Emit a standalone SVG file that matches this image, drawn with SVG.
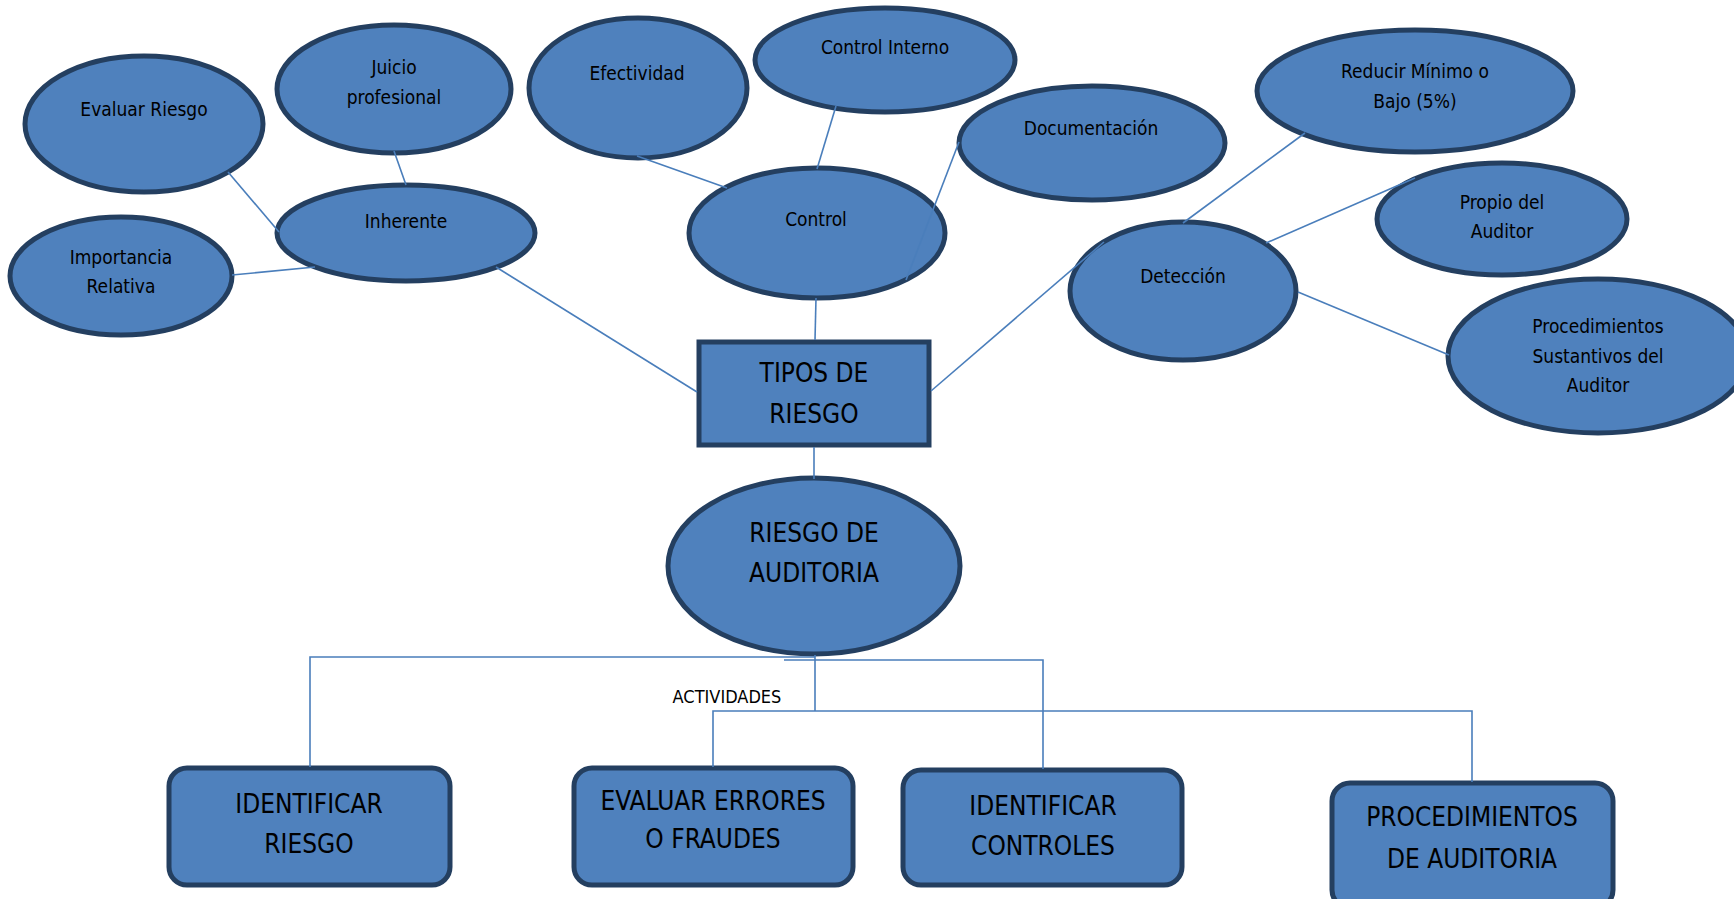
<svg xmlns="http://www.w3.org/2000/svg" width="1734" height="899" viewBox="0 0 1734 899">
<style>
.n{fill:#4F81BD;stroke:#243F60;stroke-width:5}
.c{fill:none;stroke:#4A7EBB;stroke-width:1.6}
text{font-family:"Liberation Sans Narrow","DejaVu Sans Condensed","Liberation Sans",sans-serif;fill:#000;text-anchor:middle}
.s{font-size:19px}
.b{font-size:26px}
</style>
<rect width="1734" height="899" fill="#fff"/>
<g id="evaluar-riesgo"><ellipse class="n" cx="144" cy="124" rx="119" ry="68"/><text class="s" x="144" y="116">Evaluar Riesgo</text></g>
<g id="juicio-profesional"><ellipse class="n" cx="394" cy="89" rx="117" ry="64"/><text class="s" x="394" y="74">Juicio</text><text class="s" x="394" y="104">profesional</text></g>
<g id="inherente"><ellipse class="n" cx="406" cy="233" rx="129" ry="48"/><text class="s" x="406" y="228">Inherente</text></g>
<g id="importancia-relativa"><ellipse class="n" cx="121" cy="276" rx="111" ry="59"/><text class="s" x="121" y="264">Importancia</text><text class="s" x="121" y="293">Relativa</text></g>
<g id="efectividad"><ellipse class="n" cx="638" cy="88" rx="109" ry="70"/><text class="s" x="637" y="80">Efectividad</text></g>
<g id="control-interno"><ellipse class="n" cx="885" cy="60" rx="130" ry="52"/><text class="s" x="885" y="54">Control Interno</text></g>
<g id="documentacion"><ellipse class="n" cx="1092" cy="143" rx="133" ry="57"/><text class="s" x="1091" y="135">Documentación</text></g>
<g id="control"><ellipse class="n" cx="817" cy="233" rx="128" ry="65"/><text class="s" x="816" y="226">Control</text></g>
<g id="deteccion"><ellipse class="n" cx="1183" cy="291" rx="113" ry="69"/><text class="s" x="1183" y="283">Detección</text></g>
<g id="reducir"><ellipse class="n" cx="1415" cy="91" rx="158" ry="61"/><text class="s" x="1415" y="78">Reducir Mínimo o</text><text class="s" x="1415" y="108">Bajo (5%)</text></g>
<g id="propio"><ellipse class="n" cx="1502" cy="219" rx="125" ry="56"/><text class="s" x="1502" y="209">Propio del</text><text class="s" x="1502" y="238">Auditor</text></g>
<g id="procedimientos-sustantivos"><ellipse class="n" cx="1598" cy="356" rx="150" ry="77"/><text class="s" x="1598" y="333">Procedimientos</text><text class="s" x="1598" y="363">Sustantivos del</text><text class="s" x="1598" y="392">Auditor</text></g>
<g id="tipos-de-riesgo"><rect class="n" x="699" y="342" width="230" height="103"/><text class="b" x="814" y="382">TIPOS DE</text><text class="b" x="814" y="423">RIESGO</text></g>
<g id="riesgo-de-auditoria"><ellipse class="n" cx="814" cy="566" rx="146" ry="88"/><text class="b" x="814" y="542">RIESGO DE</text><text class="b" x="814" y="582">AUDITORIA</text></g>
<g id="identificar-riesgo"><rect class="n" x="169" y="768" width="281" height="117" rx="18"/><text class="b" x="309" y="813">IDENTIFICAR</text><text class="b" x="309" y="853">RIESGO</text></g>
<g id="evaluar-errores"><rect class="n" x="574" y="768" width="279" height="117" rx="18"/><text class="b" x="713" y="810">EVALUAR ERRORES</text><text class="b" x="713" y="848">O FRAUDES</text></g>
<g id="identificar-controles"><rect class="n" x="903" y="770" width="279" height="115" rx="18"/><text class="b" x="1043" y="815">IDENTIFICAR</text><text class="b" x="1043" y="855">CONTROLES</text></g>
<g id="procedimientos-auditoria"><rect class="n" x="1332" y="783" width="281" height="125" rx="18"/><text class="b" x="1472" y="826">PROCEDIMIENTOS</text><text class="b" x="1472" y="868">DE AUDITORIA</text></g>
<g id="connectors">
<line class="c" x1="228" y1="172" x2="279" y2="232"/>
<line class="c" x1="394" y1="151" x2="406" y2="185"/>
<line class="c" x1="232" y1="275" x2="315" y2="267"/>
<line class="c" x1="496" y1="267" x2="697" y2="392"/>
<line class="c" x1="637" y1="156" x2="727" y2="188"/>
<line class="c" x1="836" y1="106" x2="817" y2="169"/>
<line class="c" x1="959" y1="142" x2="906" y2="280"/>
<line class="c" x1="816" y1="298" x2="815" y2="340"/>
<line class="c" x1="931" y1="391" x2="1104" y2="242"/>
<line class="c" x1="1305" y1="133" x2="1183" y2="223"/>
<line class="c" x1="1415" y1="178" x2="1266" y2="243"/>
<line class="c" x1="1298" y1="292" x2="1449" y2="355"/>
<line class="c" x1="814" y1="447" x2="814" y2="479"/>
<line class="c" x1="815" y1="655" x2="815" y2="711"/>
<polyline class="c" points="310,767 310,657 815,657"/>
<polyline class="c" points="784,660 1043,660 1043,769"/>
<polyline class="c" points="713,767 713,711 1472,711 1472,782"/>
<text x="727" y="703" style="font-size:18px">ACTIVIDADES</text>
</g>
</svg>
